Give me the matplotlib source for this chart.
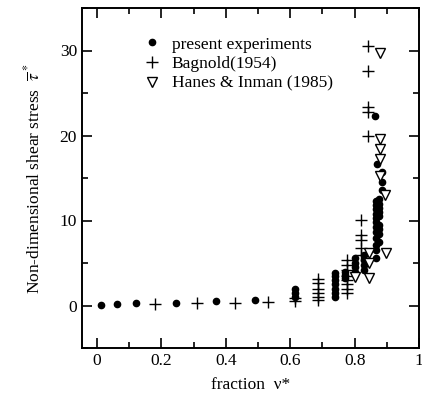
import numpy as np
import matplotlib
matplotlib.use("Agg")
from matplotlib import pyplot as plt
from matplotlib.ticker import MultipleLocator

plt.rcParams['font.family'] = ['Liberation Serif', 'DejaVu Serif']
plt.rcParams['mathtext.fontset'] = 'stix'

# present experiments (dots)
exp_x = [0.012, 0.062, 0.12, 0.246, 0.368, 0.492,
         0.615, 0.615, 0.615,
         0.74, 0.74, 0.74, 0.74, 0.74, 0.74, 0.74,
         0.77, 0.77, 0.77,
         0.80, 0.80, 0.80, 0.80,
         0.83, 0.83, 0.83, 0.83,
         0.865, 0.865, 0.865, 0.865, 0.865, 0.865, 0.865, 0.865, 0.865, 0.865, 0.865, 0.865,
         0.875, 0.875, 0.875, 0.875, 0.875, 0.875, 0.875, 0.875, 0.875,
         0.885, 0.885, 0.885, 0.87, 0.863]
exp_y = [0.1, 0.2, 0.25, 0.35, 0.5, 0.7,
         1.0, 1.5, 2.0,
         1.0, 1.5, 2.0, 2.5, 3.0, 3.5, 3.8,
         3.2, 3.6, 3.9,
         4.0, 4.5, 5.0, 5.6,
         4.2, 4.8, 5.3, 5.9,
         5.6, 6.5, 7.1, 8.0, 8.7, 9.2, 9.8, 10.3, 10.8, 11.3, 11.8, 12.3,
         7.5, 8.4, 9.0, 9.5, 10.5, 11.0, 11.5, 12.0, 12.5,
         13.6, 14.5, 15.7, 16.6, 22.3]

# Bagnold (1954) (crosses)
bag_x = [0.18, 0.31, 0.43, 0.53,
         0.615, 0.615,
         0.685, 0.685, 0.685, 0.685, 0.685, 0.685,
         0.775, 0.775, 0.775, 0.775, 0.775, 0.775, 0.775, 0.775,
         0.82, 0.82, 0.82, 0.82, 0.82,
         0.84, 0.84, 0.84, 0.84, 0.84]
bag_y = [0.2, 0.3, 0.35, 0.4,
         0.5, 0.9,
         0.6, 1.0, 1.5, 2.0, 2.6, 3.1,
         1.5, 2.0, 2.5, 3.0, 3.5, 4.2, 4.8, 5.4,
         5.9, 6.8, 7.7, 8.3, 10.1,
         19.9, 22.8, 23.3, 27.6, 30.5]

# Hanes & Inman (1985) (open triangles)
hi_x = [0.878, 0.88, 0.88, 0.88, 0.88, 0.894, 0.897, 0.845, 0.845, 0.80, 0.845]
hi_y = [29.7, 19.6, 18.4, 17.2, 15.2, 13.0, 6.2, 6.2, 5.0, 3.4, 3.2]

fig = plt.figure(figsize=(4.22, 4.0), dpi=100)
ax = fig.add_axes([0.194, 0.13, 0.799, 0.85])

ax.plot(exp_x, exp_y, 'o', color='black', markersize=4.5, label='present experiments')
ax.plot(bag_x, bag_y, '+', color='black', markersize=8, markeredgewidth=1.0, label='Bagnold(1954)')
ax.plot(hi_x, hi_y, 'v', markerfacecolor='white', markeredgecolor='black', markersize=7.5,
        markeredgewidth=1.0, label='Hanes & Inman (1985)')

ax.set_xlim(-0.047, 1.0)
ax.set_ylim(-5, 35)
ax.xaxis.set_minor_locator(MultipleLocator(0.1))
ax.yaxis.set_major_locator(MultipleLocator(10))
ax.yaxis.set_minor_locator(MultipleLocator(5))
ax.set_xticks([0, 0.2, 0.4, 0.6, 0.8, 1.0])
ax.set_xticklabels(['0', '0.2', '0.4', '0.6', '0.8', '1'])
ax.tick_params(which='both', direction='in', top=True, right=True, labelsize=12.5, width=1.2)
ax.tick_params(which='major', length=7)
ax.tick_params(which='minor', length=4)
for s in ax.spines.values():
    s.set_linewidth(1.4)

ax.set_xlabel('fraction  \u03bd*', fontsize=12.5, labelpad=6)
ax.set_ylabel(r'Non-dimensional shear stress  $\overline{\tau}^{\,*}$', fontsize=12.5, labelpad=12)

ax.legend(loc='upper left', bbox_to_anchor=(0.163, 0.937), frameon=False, fontsize=12.5,
          handlelength=1.0, handletextpad=0.6, labelspacing=0.2, borderaxespad=0)

fig.savefig('out.png', dpi=100)
